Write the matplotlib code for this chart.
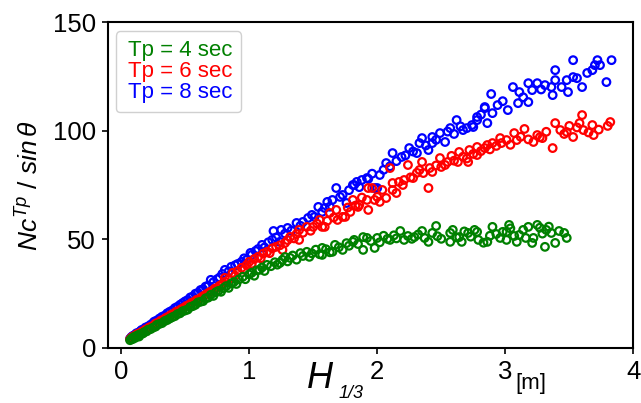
import numpy as np
import matplotlib
matplotlib.use("Agg")
import matplotlib.pyplot as plt

# ---------------------------------------------------------------------------
# Data (H1/3 [m], Nc^Tp / sin(theta))
# ---------------------------------------------------------------------------

tp4_points = [
    (0.07, 3.5), (0.08, 4.2), (0.09, 4.0), (0.10, 5.0), (0.11, 4.6), (0.12, 5.4), (0.13, 5.8),
    (0.14, 5.2), (0.15, 6.3), (0.17, 6.6), (0.18, 7.2), (0.20, 7.6), (0.21, 8.3), (0.23, 8.6),
    (0.25, 9.3), (0.27, 9.8), (0.28, 10.6), (0.30, 11.0), (0.32, 11.4), (0.34, 12.3), (0.36, 12.8),
    (0.38, 13.5), (0.40, 14.1), (0.42, 14.6), (0.44, 15.5), (0.46, 15.9), (0.48, 16.8), (0.50, 17.2),
    (0.52, 17.6), (0.54, 18.8), (0.56, 19.2), (0.58, 19.8), (0.60, 20.9), (0.62, 21.2), (0.64, 21.5),
    (0.66, 22.8), (0.68, 23.1), (0.70, 24.4), (0.72, 23.9), (0.74, 25.6), (0.76, 26.2), (0.78, 25.8),
    (0.80, 27.5), (0.82, 28.4), (0.84, 27.6), (0.86, 29.6), (0.88, 30.3), (0.90, 29.4), (0.92, 31.5),
    (0.95, 32.7), (0.97, 31.6), (1.00, 33.8), (1.02, 34.6), (1.04, 33.2), (1.06, 35.7), (1.08, 35.9),
    (1.10, 37.0), (1.12, 35.4), (1.14, 38.2), (1.17, 37.6), (1.20, 39.4), (1.22, 38.3), (1.24, 39.1),
    (1.26, 40.5), (1.28, 41.8), (1.30, 39.8), (1.32, 41.4), (1.34, 42.5), (1.37, 40.6), (1.40, 43.6),
    (1.42, 42.3), (1.45, 44.2), (1.47, 41.9), (1.49, 43.5), (1.52, 45.2), (1.55, 43.1), (1.57, 46.0),
    (1.57, 42.8), (1.60, 45.4), (1.63, 44.0), (1.65, 44.2), (1.67, 47.4), (1.70, 46.3), (1.73, 45.1),
    (1.76, 48.2), (1.78, 47.0), (1.81, 48.8), (1.82, 49.7), (1.85, 47.8), (1.89, 45.1), (1.89, 51.0),
    (1.92, 50.6), (1.95, 49.2), (1.98, 46.0), (2.00, 50.6), (2.02, 48.6), (2.05, 51.6), (2.08, 50.2),
    (2.10, 49.7), (2.13, 51.8), (2.15, 50.4), (2.18, 53.8), (2.21, 49.7), (2.24, 51.5), (2.27, 50.2),
    (2.29, 51.0), (2.32, 52.2), (2.35, 53.8), (2.37, 50.6), (2.40, 48.8), (2.43, 52.9), (2.46, 56.1),
    (2.47, 51.4), (2.50, 50.2), (2.57, 52.9), (2.57, 48.8), (2.59, 54.3), (2.62, 50.8), (2.64, 51.0),
    (2.66, 48.8), (2.68, 53.6), (2.71, 52.9), (2.73, 51.2), (2.76, 54.3), (2.78, 53.4), (2.79, 49.7),
    (2.83, 48.4), (2.86, 48.8), (2.88, 51.6), (2.90, 55.7), (2.93, 52.4), (2.96, 50.6), (2.98, 53.4),
    (3.01, 49.7), (3.01, 53.4), (3.03, 56.6), (3.04, 55.0), (3.07, 51.5), (3.09, 48.8), (3.11, 52.0),
    (3.14, 54.3), (3.16, 50.6), (3.18, 55.7), (3.21, 48.3), (3.22, 50.6), (3.25, 56.6), (3.27, 55.3),
    (3.29, 52.6), (3.31, 46.5), (3.32, 54.3), (3.34, 55.8), (3.36, 52.9), (3.39, 48.3), (3.42, 53.8),
    (3.46, 52.9), (3.48, 50.6),
]

tp6_points = [
    (0.07, 4.0), (0.08, 4.6), (0.09, 5.1), (0.10, 5.0), (0.11, 5.6), (0.12, 6.1), (0.13, 6.4),
    (0.14, 6.2), (0.15, 6.9), (0.16, 7.3), (0.18, 7.8), (0.19, 8.4), (0.21, 8.8), (0.22, 9.4),
    (0.24, 9.8), (0.26, 10.6), (0.27, 11.2), (0.29, 11.6), (0.31, 12.5), (0.33, 13.0), (0.35, 13.8),
    (0.37, 14.4), (0.39, 15.2), (0.41, 15.7), (0.43, 16.6), (0.45, 17.1), (0.47, 17.8), (0.49, 18.5),
    (0.51, 19.3), (0.53, 19.8), (0.55, 20.7), (0.57, 21.2), (0.59, 22.1), (0.61, 22.5), (0.63, 23.4),
    (0.65, 24.1), (0.67, 24.8), (0.69, 25.6), (0.71, 26.1), (0.73, 27.2), (0.75, 27.6), (0.77, 28.6),
    (0.79, 29.3), (0.81, 30.4), (0.81, 32.2), (0.84, 31.4), (0.87, 34.5), (0.89, 33.2), (0.91, 35.3),
    (0.94, 36.8), (0.96, 36.0), (0.98, 38.1), (1.00, 39.6), (1.02, 38.7), (1.04, 40.9), (1.07, 41.9),
    (1.09, 41.2), (1.11, 43.4), (1.14, 44.2), (1.16, 43.6), (1.18, 45.8), (1.21, 46.5), (1.24, 47.2),
    (1.26, 45.1), (1.28, 48.3), (1.30, 49.6), (1.32, 51.1), (1.35, 50.4), (1.37, 52.4), (1.39, 49.7),
    (1.39, 54.3), (1.42, 53.0), (1.45, 55.7), (1.48, 53.9), (1.50, 55.7), (1.53, 57.2), (1.55, 58.9),
    (1.57, 55.7), (1.59, 55.7), (1.61, 58.5), (1.63, 62.1), (1.66, 60.0), (1.68, 63.5), (1.69, 58.9),
    (1.73, 60.3), (1.75, 60.3), (1.77, 64.6), (1.79, 62.6), (1.81, 68.1), (1.83, 65.5), (1.85, 64.9),
    (1.86, 65.8), (1.88, 69.2), (1.92, 68.1), (1.93, 63.5), (1.93, 73.6), (1.96, 73.6), (1.98, 68.1),
    (2.00, 69.5), (2.02, 67.2), (2.04, 72.7), (2.07, 69.0), (2.10, 82.8), (2.12, 75.9), (2.12, 72.7),
    (2.15, 71.3), (2.17, 76.4), (2.20, 75.0), (2.21, 77.3), (2.24, 84.2), (2.26, 78.5), (2.28, 78.2),
    (2.31, 80.6), (2.33, 81.9), (2.35, 85.6), (2.36, 80.5), (2.40, 73.6), (2.41, 82.8), (2.43, 81.0),
    (2.46, 84.0), (2.49, 87.4), (2.50, 83.3), (2.53, 84.2), (2.55, 85.6), (2.58, 88.4), (2.60, 86.2),
    (2.63, 85.6), (2.64, 90.2), (2.67, 88.0), (2.70, 87.2), (2.71, 85.6), (2.72, 91.1), (2.75, 89.3),
    (2.78, 92.5), (2.78, 88.8), (2.81, 90.6), (2.84, 92.0), (2.86, 93.4), (2.88, 91.4), (2.90, 94.3),
    (2.93, 93.0), (2.96, 96.6), (2.97, 94.3), (3.01, 95.7), (3.04, 93.5), (3.07, 98.9), (3.09, 95.7),
    (3.12, 97.2), (3.15, 100.8), (3.18, 96.0), (3.22, 94.8), (3.25, 98.0), (3.27, 97.0), (3.29, 96.6),
    (3.32, 99.5), (3.37, 92.0), (3.39, 103.5), (3.43, 100.3), (3.46, 98.5), (3.48, 99.4), (3.50, 102.2),
    (3.53, 97.1), (3.56, 101.5), (3.58, 103.5), (3.60, 107.2), (3.61, 100.3), (3.65, 99.2), (3.68, 102.6),
    (3.69, 98.0), (3.73, 100.5), (3.80, 102.2), (3.82, 104.0),
]

tp8_points = [
    (0.07, 4.2), (0.08, 4.9), (0.09, 5.4), (0.10, 5.6), (0.11, 6.0), (0.12, 6.7), (0.14, 7.1),
    (0.15, 7.6), (0.16, 8.2), (0.18, 8.6), (0.19, 9.3), (0.21, 9.8), (0.23, 10.6), (0.25, 11.5),
    (0.26, 12.1), (0.28, 12.6), (0.30, 13.5), (0.32, 14.3), (0.34, 14.8), (0.36, 15.9), (0.38, 16.6),
    (0.40, 17.2), (0.42, 18.3), (0.44, 18.9), (0.46, 19.8), (0.48, 20.6), (0.50, 21.4), (0.52, 22.0),
    (0.54, 23.2), (0.56, 23.6), (0.58, 24.9), (0.60, 25.3), (0.62, 26.6), (0.64, 27.0), (0.66, 28.2),
    (0.68, 28.6), (0.70, 31.3), (0.72, 30.2), (0.75, 31.6), (0.77, 32.4), (0.79, 34.0), (0.81, 35.9),
    (0.84, 35.2), (0.86, 37.3), (0.89, 38.0), (0.91, 38.6), (0.94, 39.6), (0.96, 41.2), (0.98, 40.5),
    (1.01, 43.7), (1.02, 42.8), (1.05, 44.6), (1.07, 45.5), (1.10, 47.4), (1.12, 46.2), (1.15, 48.6),
    (1.18, 49.7), (1.19, 53.8), (1.21, 50.8), (1.24, 48.8), (1.25, 54.3), (1.28, 52.6), (1.30, 55.2),
    (1.33, 54.0), (1.37, 57.5), (1.40, 56.2), (1.42, 58.0), (1.46, 59.8), (1.49, 61.2), (1.51, 60.3),
    (1.54, 64.9), (1.57, 62.6), (1.59, 64.4), (1.61, 67.2), (1.63, 65.0), (1.65, 68.1), (1.68, 73.6),
    (1.71, 69.5), (1.73, 70.4), (1.76, 66.7), (1.78, 72.6), (1.81, 75.0), (1.82, 75.0), (1.84, 76.4),
    (1.86, 74.0), (1.88, 77.3), (1.92, 78.2), (1.93, 77.8), (1.96, 80.2), (1.98, 73.6), (2.00, 73.6),
    (2.02, 79.6), (2.05, 82.0), (2.07, 85.1), (2.10, 83.6), (2.12, 89.7), (2.15, 86.0), (2.19, 87.9),
    (2.22, 88.6), (2.25, 92.0), (2.28, 90.4), (2.31, 89.7), (2.33, 94.3), (2.35, 96.6), (2.38, 93.2),
    (2.40, 91.1), (2.43, 97.1), (2.43, 94.3), (2.46, 95.8), (2.49, 98.9), (2.53, 94.8), (2.55, 99.6),
    (2.57, 101.2), (2.60, 98.5), (2.62, 104.9), (2.65, 102.0), (2.67, 100.3), (2.70, 101.2), (2.74, 102.6),
    (2.75, 101.7), (2.78, 106.3), (2.78, 104.9), (2.81, 107.4), (2.84, 110.9), (2.84, 110.4), (2.86, 103.5),
    (2.89, 116.9), (2.90, 108.1), (2.94, 111.8), (2.98, 113.6), (3.02, 109.5), (3.06, 120.1), (3.10, 112.7),
    (3.11, 117.8), (3.14, 115.4), (3.18, 121.9), (3.18, 113.2), (3.21, 118.7), (3.25, 121.9), (3.28, 119.0),
    (3.31, 121.0), (3.36, 120.1), (3.37, 116.4), (3.39, 127.9), (3.39, 123.3), (3.44, 120.1), (3.48, 123.3),
    (3.49, 117.8), (3.53, 124.7), (3.53, 132.5), (3.56, 124.2), (3.60, 120.1), (3.64, 126.6), (3.68, 127.9),
    (3.70, 130.2), (3.72, 132.5), (3.74, 130.2), (3.79, 122.4), (3.83, 132.5),
]

series_labels = ["Tp = 4 sec", "Tp = 6 sec", "Tp = 8 sec"]
series_colors = ["green", "red", "blue"]
x_ticks = [0, 1, 2, 3, 4]
y_ticks = [0, 50, 100, 150]

# ---------------------------------------------------------------------------
# Plot
# ---------------------------------------------------------------------------

plt.rcParams["font.family"] = ["Liberation Sans", "DejaVu Sans"]
plt.rcParams["mathtext.fontset"] = "custom"
plt.rcParams["mathtext.it"] = "Liberation Sans:italic"
plt.rcParams["mathtext.rm"] = "Liberation Sans"

fig = plt.figure(figsize=(6.41, 4.03), dpi=100)
ax = fig.add_axes([0.168, 0.137, 0.820, 0.808])

all_points = [tp4_points, tp6_points, tp8_points]
handles = [None, None, None]
# draw order: blue under red under green
for idx in [2, 1, 0]:
    pts = np.array(all_points[idx])
    handles[idx] = ax.scatter(pts[:, 0], pts[:, 1], s=30, facecolors="none",
                              edgecolors=series_colors[idx], linewidths=1.6,
                              label=series_labels[idx])

ax.set_xlim(-0.105, 4.0)
ax.set_ylim(0, 150)
ax.set_xticks(x_ticks)
ax.set_yticks(y_ticks)
ax.tick_params(direction="out", length=4.5, width=1.2, labelsize=18.5, pad=4)
for sp in ax.spines.values():
    sp.set_linewidth(1.5)

leg = ax.legend(handles=handles, loc="upper left", bbox_to_anchor=(0.015, 0.972),
                borderaxespad=0, fontsize=16, handlelength=0, handletextpad=0.15,
                labelspacing=0.0, borderpad=0.4, frameon=True, fancybox=True,
                edgecolor="#d0d0d0", framealpha=1)
for h in leg.legend_handles:
    h.set_visible(False)
for txt, c in zip(leg.get_texts(), series_colors):
    txt.set_color(c)

fig.text(30 / 641, 1 - 185 / 403, r"$Nc^{Tp}\ /\ sin\,\theta$", rotation=90,
         ha="center", va="center", fontsize=19)
fig.text(320 / 641, 1 - 379 / 403, "H", style="italic", ha="center", va="center", fontsize=26)
fig.text(351 / 641, 1 - 393 / 403, "1/3", style="italic", ha="center", va="center", fontsize=13)
fig.text(531 / 641, 1 - 383 / 403, "[m]", ha="center", va="center", fontsize=16)

fig.savefig("out.png", dpi=100)
